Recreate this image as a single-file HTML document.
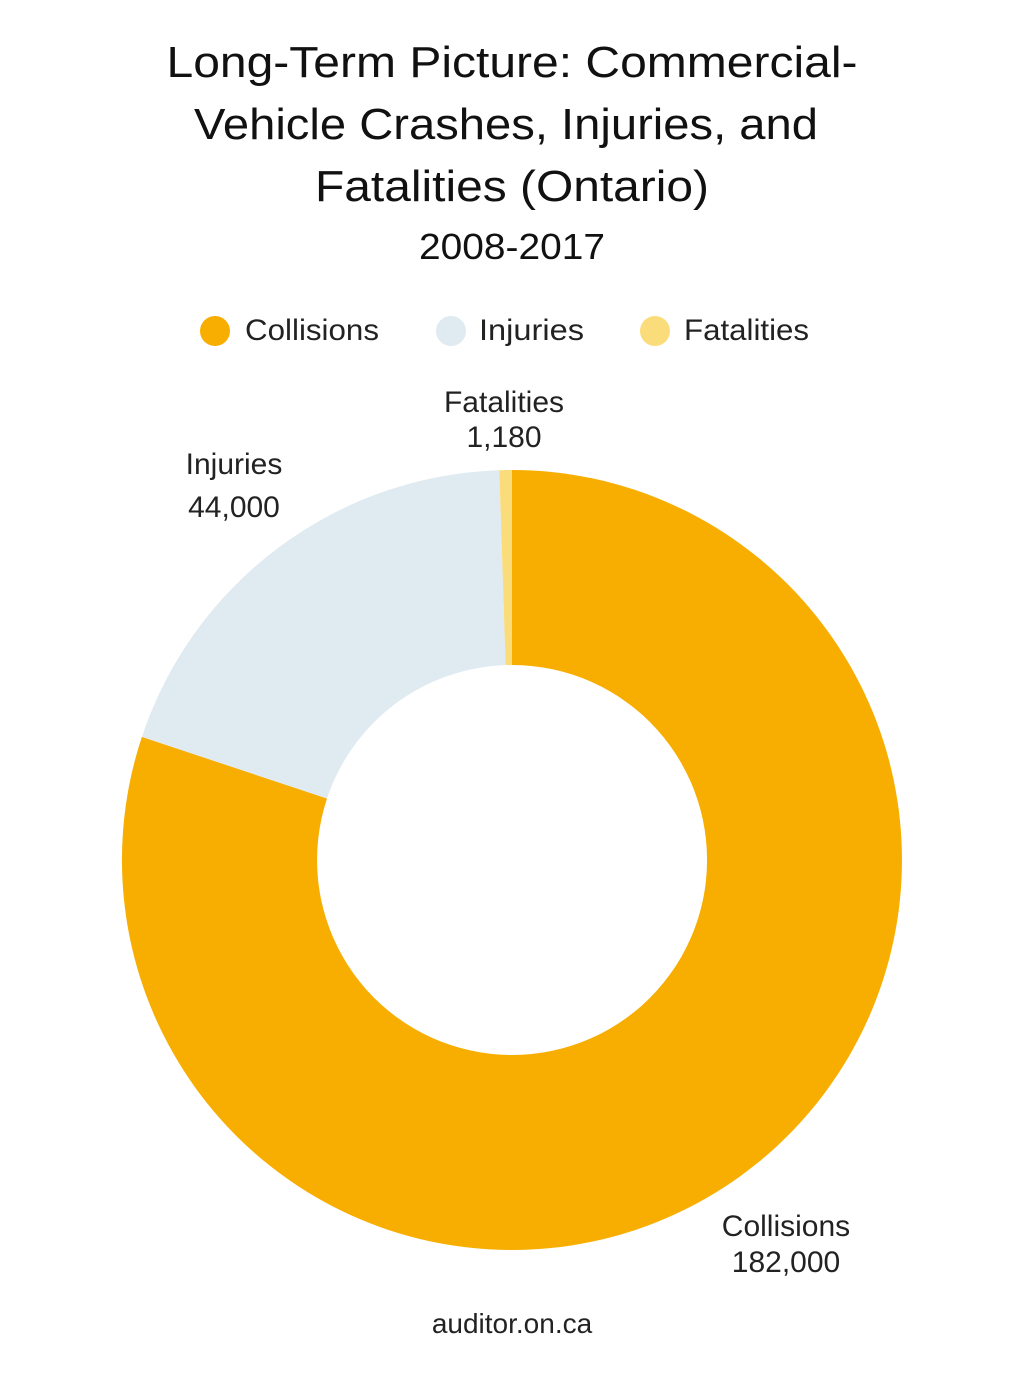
<!DOCTYPE html>
<html><head><meta charset="utf-8"><style>
html,body{margin:0;padding:0;background:#fff;}
svg{display:block;font-family:"Liberation Sans",sans-serif;}
</style></head><body>
<svg width="1024" height="1378" viewBox="0 0 1024 1378" xmlns="http://www.w3.org/2000/svg">
<rect width="1024" height="1378" fill="#fff"/>
<g fill="#111" text-anchor="middle">
<text x="512" y="77" font-size="44" textLength="691" lengthAdjust="spacingAndGlyphs">Long-Term Picture: Commercial-</text>
<text x="506" y="139" font-size="44" textLength="624" lengthAdjust="spacingAndGlyphs">Vehicle Crashes, Injuries, and</text>
<text x="512" y="201" font-size="44" textLength="394" lengthAdjust="spacingAndGlyphs">Fatalities (Ontario)</text>
<text x="512" y="259" font-size="36" textLength="186" lengthAdjust="spacingAndGlyphs">2008-2017</text>
</g>
<g font-size="30" fill="#222">
<circle cx="215" cy="331" r="15" fill="#F8AE00"/>
<text x="245" y="340" textLength="134" lengthAdjust="spacingAndGlyphs">Collisions</text>
<circle cx="451" cy="331" r="15" fill="#DFEAF1"/>
<text x="479" y="340" textLength="105" lengthAdjust="spacingAndGlyphs">Injuries</text>
<circle cx="655" cy="331" r="15" fill="#FBDC7A"/>
<text x="684" y="340" textLength="125" lengthAdjust="spacingAndGlyphs">Fatalities</text>
</g>
<path d="M512,470 A390,390 0 1 1 141.9,736.9 L327,798.5 A195,195 0 1 0 512,665 Z" fill="#F8AE00"/>
<path d="M141.9,736.9 A390,390 0 0 1 499.3,470.2 L505.6,665.1 A195,195 0 0 0 327,798.5 Z" fill="#DFEAF1"/>
<path d="M499.3,470.2 A390,390 0 0 1 512,470 L512,665 A195,195 0 0 0 505.6,665.1 Z" fill="#FBDC7A"/>
<g font-size="30" fill="#222" text-anchor="middle">
<text x="504" y="412">Fatalities</text>
<text x="504" y="447">1,180</text>
<text x="234" y="474">Injuries</text>
<text x="234" y="517">44,000</text>
<text x="786" y="1236">Collisions</text>
<text x="786" y="1272">182,000</text>
<text x="512" y="1333" font-size="28">auditor.on.ca</text>
</g>
</svg>
</body></html>
